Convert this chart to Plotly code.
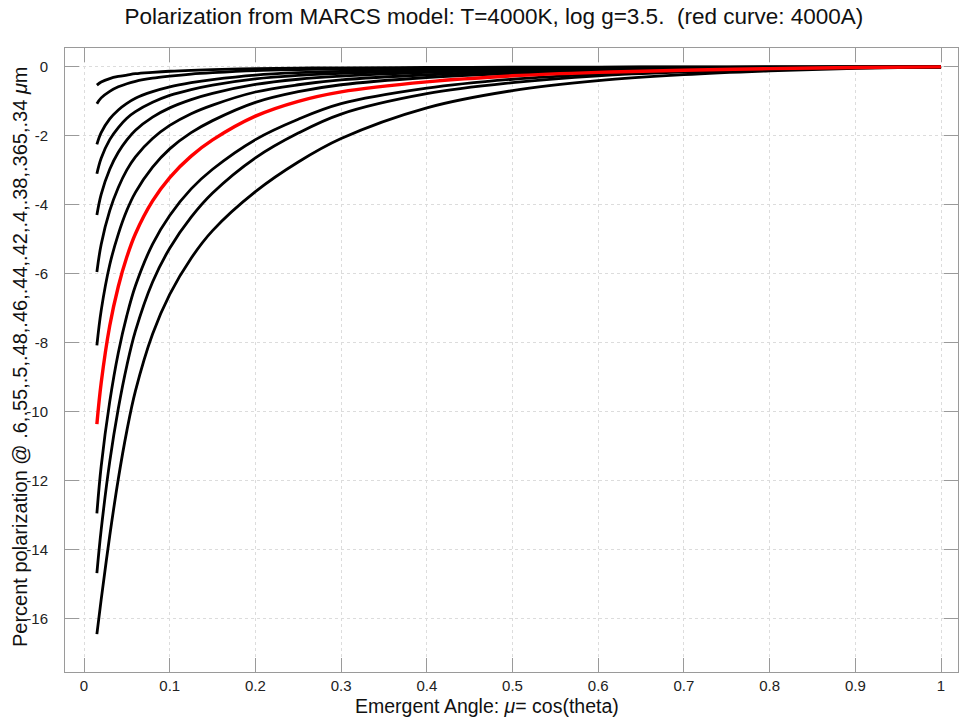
import plotly.graph_objects as go

# Emergent angle mu = cos(theta)
mu = [0.015, 0.02, 0.03, 0.04, 0.05, 0.06, 0.08, 0.1, 0.125, 0.15,
      0.2, 0.25, 0.3, 0.4, 0.5, 0.6, 0.7, 0.8, 0.9, 1.0]

# Percent polarization for each wavelength (micron)
p_600 = [-0.53, -0.44, -0.34, -0.28, -0.24, -0.20, -0.16, -0.128, -0.10, -0.081,
         -0.053, -0.038, -0.029, -0.019, -0.012, -0.007, -0.004, -0.0024, -0.001, 0.0]
p_550 = [-1.07, -0.90, -0.71, -0.58, -0.49, -0.42, -0.33, -0.27, -0.21, -0.17,
         -0.11, -0.08, -0.061, -0.038, -0.024, -0.014, -0.009, -0.005, -0.002, 0.0]
p_500 = [-2.25, -1.91, -1.51, -1.25, -1.06, -0.91, -0.72, -0.58, -0.46, -0.37,
         -0.24, -0.17, -0.13, -0.08, -0.05, -0.03, -0.018, -0.01, -0.0045, 0.0]
p_480 = [-3.10, -2.65, -2.11, -1.76, -1.49, -1.30, -1.03, -0.83, -0.66, -0.53,
         -0.35, -0.25, -0.19, -0.115, -0.071, -0.043, -0.026, -0.015, -0.006, 0.0]
p_460 = [-4.30, -3.70, -2.97, -2.48, -2.12, -1.84, -1.46, -1.19, -0.95, -0.77,
         -0.51, -0.36, -0.27, -0.16, -0.099, -0.06, -0.037, -0.02, -0.009, 0.0]
p_440 = [-5.95, -5.15, -4.17, -3.50, -2.99, -2.61, -2.08, -1.70, -1.36, -1.11,
         -0.73, -0.52, -0.38, -0.23, -0.14, -0.086, -0.052, -0.029, -0.012, 0.0]
p_420 = [-8.08, -7.07, -5.74, -4.85, -4.16, -3.64, -2.91, -2.38, -1.91, -1.56,
         -1.03, -0.72, -0.52, -0.31, -0.19, -0.117, -0.071, -0.039, -0.016, 0.0]
p_400 = [-10.36, -9.17, -7.51, -6.37, -5.51, -4.84, -3.89, -3.21, -2.59, -2.12,
         -1.43, -1.00, -0.725, -0.435, -0.26, -0.16, -0.098, -0.052, -0.021, 0.0]
p_380 = [-12.95, -11.59, -9.71, -8.29, -7.21, -6.35, -5.14, -4.31, -3.54, -2.97,
         -2.11, -1.52, -1.07, -0.62, -0.36, -0.21, -0.12, -0.065, -0.026, 0.0]
p_365 = [-14.68, -13.43, -11.45, -9.91, -8.66, -7.66, -6.24, -5.26, -4.36, -3.66,
         -2.64, -1.92, -1.37, -0.78, -0.46, -0.26, -0.15, -0.08, -0.03, 0.0]
p_340 = [-16.45, -15.45, -13.60, -11.95, -10.55, -9.40, -7.75, -6.60, -5.55, -4.75,
         -3.62, -2.76, -2.08, -1.19, -0.69, -0.40, -0.225, -0.115, -0.045, 0.0]

black_series = [p_600, p_550, p_500, p_480, p_460, p_440, p_420, p_380, p_365, p_340]
red_series = p_400

x_ticks = [0, 0.1, 0.2, 0.3, 0.4, 0.5, 0.6, 0.7, 0.8, 0.9, 1]
x_tick_text = ["0", "0.1", "0.2", "0.3", "0.4", "0.5", "0.6", "0.7", "0.8", "0.9", "1"]
y_ticks = [0, -2, -4, -6, -8, -10, -12, -14, -16]
y_tick_text = ["0", "-2", "-4", "-6", "-8", "-10", "-12", "-14", "-16"]

fig = go.Figure()
for s in black_series:
    fig.add_trace(go.Scatter(x=mu, y=s, mode="lines",
                             line=dict(color="black", width=2.8, shape="spline", smoothing=1.0),
                             showlegend=False, hoverinfo="skip"))
fig.add_trace(go.Scatter(x=mu, y=red_series, mode="lines",
                         line=dict(color="#ff0000", width=3.4, shape="spline", smoothing=1.0),
                         showlegend=False, hoverinfo="skip"))

font_family = "Liberation Sans, Arial, Helvetica, sans-serif"
fig.update_layout(
    width=959, height=724,
    margin=dict(l=65, r=1, t=48, b=52),
    paper_bgcolor="white", plot_bgcolor="white",
    font=dict(family=font_family, color="#222222", size=15),
    title=dict(text="Polarization from MARCS model: T=4000K, log g=3.5.  (red curve: 4000A)",
               xref="container", x=0.515, xanchor="center",
               yref="container", y=1 - 16 / 724, yanchor="middle",
               font=dict(size=22.5, color="#111111")),
    annotations=[
        dict(text="Emergent Angle: <i>μ</i>= cos(theta)", xref="paper", yref="paper",
             x=(487 - 65) / 893, y=0, xanchor="center", yanchor="middle", yshift=-34,
             showarrow=False, font=dict(size=19.5, color="#111111")),
        dict(text="Percent polarization @ .6,.55,.5,.48,.46,.44,.42,.4,.38,.365,.34 <i>μ</i>m",
             xref="paper", yref="paper", x=0, xshift=-45, y=(672 - 357) / 624,
             xanchor="center", yanchor="middle", textangle=-90,
             showarrow=False, font=dict(size=20, color="#111111")),
    ],
)
fig.update_xaxes(
    range=[-0.0222, 1.0198], tickvals=x_ticks, ticktext=x_tick_text,
    ticks="inside", ticklen=14, tickcolor="#9a9a9a", tickwidth=1,
    showline=True, linecolor="#9a9a9a", linewidth=1, mirror="ticks",
    showgrid=True, gridcolor="#dcdcdc", griddash="dot", gridwidth=1,
    zeroline=False, tickfont=dict(size=15),
)
fig.update_yaxes(
    range=[-17.55, 0.546], tickvals=y_ticks, ticktext=y_tick_text,
    ticks="inside", ticklen=14, tickcolor="#9a9a9a", tickwidth=1,
    showline=True, linecolor="#9a9a9a", linewidth=1, mirror="ticks",
    showgrid=True, gridcolor="#dcdcdc", griddash="dot", gridwidth=1,
    zeroline=False, tickfont=dict(size=15), ticklabelstandoff=13,
)

fig.write_html("out.html")
